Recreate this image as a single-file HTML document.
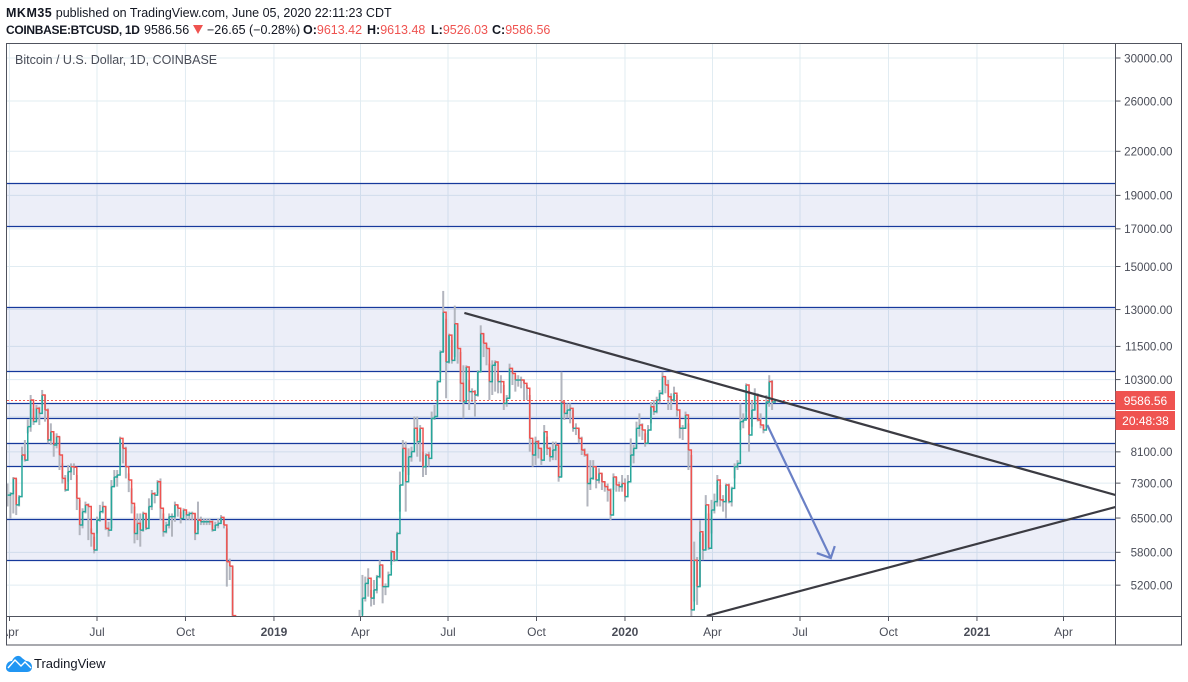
<!DOCTYPE html>
<html lang="en">
<head>
<meta charset="utf-8">
<title>COINBASE:BTCUSD chart</title>
<style>
html,body{margin:0;padding:0;background:#fff;width:1188px;height:682px;overflow:hidden}
body{position:relative;font-family:"Liberation Sans",sans-serif;color:#131722}
.t{position:absolute;white-space:nowrap;font-size:12.5px;line-height:16px}
.b{font-weight:bold}
.r{color:#ef5350}
svg{position:absolute;left:0;top:0}
</style>
</head>
<body>
<div class="t" style="left:6px;top:5px"><span class="b" style="letter-spacing:.5px">MKM35</span> published on TradingView.com, June 05, 2020 22:11:23 CDT</div>
<div class="t b" style="left:6px;top:22px;font-size:12px;letter-spacing:-.3px">COINBASE:BTCUSD, 1D</div>
<div class="t" style="left:144px;top:22px">9586.56</div>
<div class="t" style="left:207px;top:22px">−26.65 (−0.28%)</div>
<div class="t" style="left:303px;top:22px"><span class="b">O:</span><span class="r">9613.42</span></div>
<div class="t" style="left:367px;top:22px"><span class="b">H:</span><span class="r">9613.48</span></div>
<div class="t" style="left:431px;top:22px"><span class="b">L:</span><span class="r">9526.03</span></div>
<div class="t" style="left:492px;top:22px"><span class="b">C:</span><span class="r">9586.56</span></div>

<svg id="chart" width="1188" height="682" viewBox="0 0 1188 682" xmlns="http://www.w3.org/2000/svg">
  <defs>
    <clipPath id="plot-clip"><rect x="7" y="44" width="1108" height="572"/></clipPath>
    <clipPath id="axis-clip"><rect x="7" y="617" width="1108" height="28"/></clipPath>
  </defs>
  <polygon points="193,25 203,25 198,34" fill="#ef5350"/>
  <g id="grid"></g>
  <g id="zones" clip-path="url(#plot-clip)"></g>
  <g id="candles" clip-path="url(#plot-clip)"></g>
  <g id="draw" clip-path="url(#plot-clip)"></g>
  <g id="axes"></g>
  <text x="15" y="64" font-family="Liberation Sans, sans-serif" font-size="12.5" fill="#4a4d58">Bitcoin / U.S. Dollar, 1D, COINBASE</text>
  <g>
    <path d="M6 668 C6 663 9 661 12 661 C14 656 19 654 22 658 L26 661 C30 661 32 664 32 667 C32 670 30 672 27 672 L10 672 C8 672 6 670 6 668 Z" fill="#2196f3"/>
    <path d="M8 668 L15 660 L21 666 L25 662 L31 668" fill="none" stroke="#fff" stroke-width="1.4"/>
    <text x="34" y="668" font-family="Liberation Sans, sans-serif" font-size="13" fill="#131722">TradingView</text>
  </g>
</svg>

<script>
// Bars are 3-day samples starting 93 days before 2018-07-01.
const firstBarDay = -93;
const barStepDays = 3;
const closes = [
7015,7050,7415,6790,6980,8015,7880,8810,9625,8955,
9360,9205,9785,9310,8425,8660,8285,8520,8015,7415,
7135,7585,7710,7695,6940,6350,6640,6790,6755,6175,
5845,6455,6640,6755,6280,6245,7215,7450,7500,8470,
8195,7710,7375,6825,6175,6385,6245,6600,6280,6755,
7050,7015,7335,6715,6210,6350,6530,6530,6790,6715,
6490,6675,6565,6600,6600,6175,6455,6420,6420,6420,
6420,6245,6350,6385,6515,6350,5620,5540,4700,
4350,3900,3800,4100,3750,3400,3450,3250,3500,3900,3800,3700,3850,3950,3650,3600,3550,3650,3550,3600,3480,3450,3480,3620,3640,3600,3700,3800,3900,3950,3810,3850,3770,3870,3900,3920,3880,3930,3980,3990,4010,4090,4120,
4635,4980,5230,5320,4980,5120,5350,5560,5175,5175,
5380,5810,5650,6175,7255,8195,7335,7970,8105,8760,
8380,8760,7710,8015,7925,9055,9110,10230,11290,12885,
10920,11940,10980,12400,11420,10170,9560,10740,9895,9895,
9785,10570,12000,11620,11420,10230,10800,10920,10230,10230,
9515,9680,10690,10510,10285,10285,10285,10170,10005,8470,
8015,8380,8195,7880,8660,8195,
7970,8150,8285,7450,9560,9205,9310,9360,8760,8760,
8470,8150,8015,7290,7415,7710,7375,7540,7335,7215,
7135,6565,7450,7255,7215,7290,6980,7335,8015,8195,
8760,8855,8710,8335,8710,9410,9260,9625,9840,10400,
10115,9730,9625,9840,9310,8760,8760,9155,8150,
4790,5650,5175,6210,5845,6790,5880,6675,6865,7375,
6905,6865,7255,6865,7175,7710,7795,8955,9005,10115,
8565,9310,9785,9005,8855,8710,9560,10230,9560,9586.56
];
const highs = [
7290,7085,7450,7415,7015,8240,8425,9020,9785,9360,
9465,9410,9950,9785,9360,8905,8615,8615,8520,7795,
7500,7755,7795,7795,7500,6905,6715,6865,6825,6280,
6110,6530,6790,6865,6755,6420,7375,7625,7625,8520,
8335,8240,7540,7175,6755,6600,6600,6640,6600,6940,
7135,7085,7375,7415,6600,6420,6600,6600,6865,6790,
6640,6715,6640,6640,6640,6600,6865,6530,6490,6490,
6490,6455,6420,6490,6565,6455,6280,5680,5540,
4700,4400,4000,4200,4150,3800,3600,3550,3600,4100,4000,3850,3900,4050,3950,3700,3650,3700,3650,3650,3620,3500,3550,3650,3680,3700,3720,3850,4200,4000,3950,3900,3880,3900,3950,3950,3950,3960,4000,4020,4050,4120,4200,
4790,5380,5350,5500,5120,5290,5380,5650,5560,5230,
5440,5845,5810,6210,7585,8425,8380,8195,8240,9110,
9110,8855,8105,8060,8105,9260,9465,10285,11355,13830,
12610,12000,11745,13170,12400,11290,10800,10800,10285,10005,
9950,10630,12335,12000,11620,10860,10980,10980,10510,10450,
10115,9785,10860,10630,10450,10450,10400,10285,10115,9785,
8425,8520,8425,8195,8855,8520,
8240,8380,8380,8240,10570,9515,9515,9515,9310,8905,
8760,8520,8195,8060,7880,7880,7670,7670,7540,7335,
7290,7175,7540,7450,7335,7500,7415,7500,8470,8285,
8955,9205,8905,8615,8855,9560,9625,9730,9950,10570,
10400,10285,9840,10060,9785,9005,8855,9260,8905,
8015,6010,5710,6455,6175,7015,6600,6905,7050,7500,
7255,7015,7290,7290,7215,7795,7880,9515,9205,10170,
9950,9625,10005,9840,9205,8855,9785,10450,10285,9613.48
];
const lows = [
6755,6490,6600,6565,6755,7880,7840,8615,8660,8855,
8955,8855,9465,8955,8335,8285,7970,8195,7625,7290,
7095,7335,7375,7500,6675,6140,6280,6600,6040,5910,
5780,6175,6420,6600,6245,6110,6280,7215,7215,7755,
7795,7415,7085,6600,5975,6040,5910,6210,6245,6455,
6675,6825,7050,6455,6110,6175,6280,6110,6420,6530,
6385,6530,6455,6455,6455,6040,6245,6350,6350,6350,
6350,6210,6280,6280,6420,6280,5175,5290,4500,
4300,3800,3650,3750,3700,3350,3300,3200,3230,3450,3700,3650,3600,3800,3600,3500,3470,3500,3500,3480,3400,3380,3400,3440,3580,3550,3580,3680,3680,3850,3750,3780,3720,3750,3820,3850,3840,3850,3880,3940,3950,3980,4040,
4100,4710,4925,5005,4845,4870,5060,5320,4895,5030,
5175,5560,5620,5810,6640,7585,6640,7500,7840,8380,
7970,7840,7450,7500,7710,8380,9005,9465,10510,11290,
9680,10860,10860,11100,10860,9560,9055,9560,9310,9560,
9110,9730,10570,11100,10800,9625,9785,9895,9840,9840,
9310,9410,9680,10115,9895,10060,10005,9625,9625,8105,
7710,7755,7925,7755,8195,8015,
7840,7880,7880,7335,7450,9005,9055,8905,8660,8565,
8335,8015,7970,6755,7135,7375,7175,7290,7135,7095,
6865,6455,7135,7095,7095,7095,6865,7290,7710,7795,
8195,8520,8425,8240,8335,8905,9155,9205,9515,9785,
9840,9310,9310,9560,9110,8470,8425,8760,7625,
4000,4925,4870,5175,5650,5845,5845,6175,6600,6755,
6755,6640,6490,6825,6755,7415,7625,8710,8760,9260,
8105,8805,9310,8960,8760,8615,8805,9410,9310,9526.03
];
// Horizontal levels drawn on the chart (price)
const levelPrices = [19800,17135,13130,10600,9530,9060,8355,7715,6490,5645];
// Shaded bands: upper and lower price of each band
const zoneHigh = [19800,13130,9530,8355,6490];
const zoneLow = [17135,10600,9060,7715,5645];
// Trendlines & forecast arrow: day offset from 2018-07-01 and price
const trendDownDays = [382,1059];
const trendDownPrices = [12853,7018];
const trendUpDays = [634,1059];
const trendUpPrices = [4695,6742];
const arrowDays = [697,763];
const arrowPrices = [8856,5690];
const lastPrice = 9586.56;
// Axis ticks
const priceTicks = [30000,26000,22000,19000,17000,15000,13000,11500,10300,9100,8100,7300,6500,5800,5200];
const hiddenPriceTickLabels = [9100];
const timeTickLabels = ['Apr','Jul','Oct','2019','Apr','Jul','Oct','2020','Apr','Jul','Oct','2021','Apr'];
const timeTickDays = [-91,0,92,184,274,365,457,549,640,731,823,915,1005];
const plotLeft = 7, plotRight = 1115.5, plotBottom = 616, frameTop = 43.5, frameRight = 1181.5, frameBottom = 645, frameLeft = 6.5;

function xOf(day){ return 97 + day * 0.9617; }
function yOf(price){ return 58 + 300.8 * Math.log(30000 / price); }
// marks below the visible price range stop just past the plot's clipped bottom edge
function yMark(price){ return Math.min(yOf(price), plotBottom + 6); }

const NS = 'http://www.w3.org/2000/svg';
function mk(tag, parent, attrs){
  const el = document.createElementNS(NS, tag);
  for (const k in attrs) el.setAttribute(k, attrs[k]);
  parent.appendChild(el);
  return el;
}
const grid = document.getElementById('grid');
const zones = document.getElementById('zones');
const candles = document.getElementById('candles');
const draw = document.getElementById('draw');
const axes = document.getElementById('axes');
const FONT = 'Liberation Sans, sans-serif';

// grid
priceTicks.forEach(function(p){
  const l = mk('line', grid, {x1:plotLeft, x2:plotRight, y1:yOf(p), y2:yOf(p), stroke:'#e1ecf2', 'stroke-width':1});
  
  
});
timeTickDays.forEach(function(d){
  const l = mk('line', grid, {x1:xOf(d), x2:xOf(d), y1:frameTop, y2:plotBottom, stroke:'#e1ecf2', 'stroke-width':1});
  
  
});

// zones
zoneHigh.forEach(function(p, i){
  const r = mk('rect', zones, {x:plotLeft, y:yOf(p), width:plotRight-plotLeft, height:yOf(zoneLow[i])-yOf(p), fill:'#2a46b0', 'fill-opacity':0.09});
  
  
});

// level lines
levelPrices.forEach(function(p){
  const y = Math.round(yOf(p)) + 0.5;
  const l = mk('line', zones, {x1:plotLeft, x2:plotRight, y1:y, y2:y, stroke:'#16399c', 'stroke-width':1.3});
  
  
});

// candles: wicks first, then stepped bodies
closes.forEach(function(c, i){
  const x = xOf(firstBarDay + i * barStepDays);
  const w = mk('line', candles, {x1:x, x2:x, y1:yMark(highs[i]), y2:yMark(lows[i]), stroke:'#b2b5be', 'stroke-width':2});
  
  
});
closes.forEach(function(c, i){
  const x = xOf(firstBarDay + i * barStepDays);
  const open = i > 0 ? closes[i-1] : c;
  const prevX = i > 0 ? xOf(firstBarDay + (i-1) * barStepDays) : x;
  const color = c >= open ? '#26a69a' : '#ef5350';
  const b = mk('path', candles, {d:'M'+prevX.toFixed(2)+' '+yMark(open).toFixed(2)+'H'+x.toFixed(2)+'V'+yMark(c).toFixed(2), fill:'none', stroke:color, 'stroke-width':1.5});
  
  
});

// last price dashed line
const lastLine = mk('line', draw, {x1:plotLeft, x2:plotRight, y1:yOf(lastPrice)-0.7, y2:yOf(lastPrice)-0.7, stroke:'#ef5350', 'stroke-width':1, 'stroke-dasharray':'2 2'});



// trendlines
const tDown = mk('line', draw, {x1:xOf(trendDownDays[0]), y1:yOf(trendDownPrices[0]), x2:xOf(trendDownDays[1]), y2:yOf(trendDownPrices[1]), stroke:'#3b3b42', 'stroke-width':2.2});


const tUp = mk('line', draw, {x1:xOf(trendUpDays[0]), y1:yOf(trendUpPrices[0]), x2:xOf(trendUpDays[1]), y2:yOf(trendUpPrices[1]), stroke:'#3b3b42', 'stroke-width':2.2});



// arrow
const ax1 = xOf(arrowDays[0]), ay1 = yOf(arrowPrices[0]), ax2 = xOf(arrowDays[1]), ay2 = yOf(arrowPrices[1]);
const arrowShaft = mk('line', draw, {x1:ax1, y1:ay1, x2:ax2, y2:ay2, stroke:'#6a80c6', 'stroke-width':2.2});


const arrowHead = mk('path', draw, {d:'M'+(ax2-14)+' '+(ay2-5)+'L'+ax2+' '+ay2+'L'+(ax2+4)+' '+(ay2-12), fill:'none', stroke:'#6a80c6', 'stroke-width':2.2});



// frame
const frame = mk('rect', axes, {x:frameLeft, y:frameTop, width:frameRight-frameLeft, height:frameBottom-frameTop, fill:'none', stroke:'#50535e', 'stroke-width':1});


const priceAxisLine = mk('line', axes, {x1:plotRight, x2:plotRight, y1:frameTop, y2:frameBottom, stroke:'#50535e', 'stroke-width':1});


const timeAxisLine = mk('line', axes, {x1:frameLeft, x2:frameRight, y1:plotBottom+0.5, y2:plotBottom+0.5, stroke:'#50535e', 'stroke-width':1});



// price labels
priceTicks.forEach(function(p){
  const y = yOf(p);
  const tk = mk('line', axes, {x1:plotRight, x2:plotRight+5, y1:y, y2:y, stroke:'#50535e', 'stroke-width':1});
  
  
  if (hiddenPriceTickLabels.indexOf(p) >= 0) return;
  const t = mk('text', axes, {x:1172.5, y:y+4.3, 'text-anchor':'end', 'font-family':FONT, 'font-size':11.6, fill:'#4a4d58'});
  t.textContent = p.toFixed(2);
  
  
});

// time labels
timeTickDays.forEach(function(d, i){
  const x = xOf(d);
  const tk = mk('line', axes, {x1:x, x2:x, y1:plotBottom, y2:plotBottom+5, stroke:'#50535e', 'stroke-width':1});
  
  
  const label = timeTickLabels[i];
  const isYear = /^\d/.test(label);
  const t = mk('text', axes, {x:x, y:636, 'text-anchor':'middle', 'font-family':FONT, 'font-size':12, 'font-weight':isYear?'bold':'normal', fill:'#4a4d58', 'clip-path':'url(#axis-clip)'});
  t.textContent = label;
  
  
});

// price badge + countdown
const badge = mk('rect', axes, {x:1115.5, y:391, width:59.5, height:19, fill:'#ef5350'});


const badgeText = mk('text', axes, {x:1145.5, y:405, 'text-anchor':'middle', 'font-family':FONT, 'font-size':12, fill:'#fff'});
badgeText.textContent = lastPrice.toFixed(2);


const cd = mk('rect', axes, {x:1115.5, y:411, width:59.5, height:19, fill:'#ef5350'});


const cdText = mk('text', axes, {x:1145.5, y:425, 'text-anchor':'middle', 'font-family':FONT, 'font-size':12, fill:'#fff'});
cdText.textContent = '20:48:38';


</script>
</body>
</html>
